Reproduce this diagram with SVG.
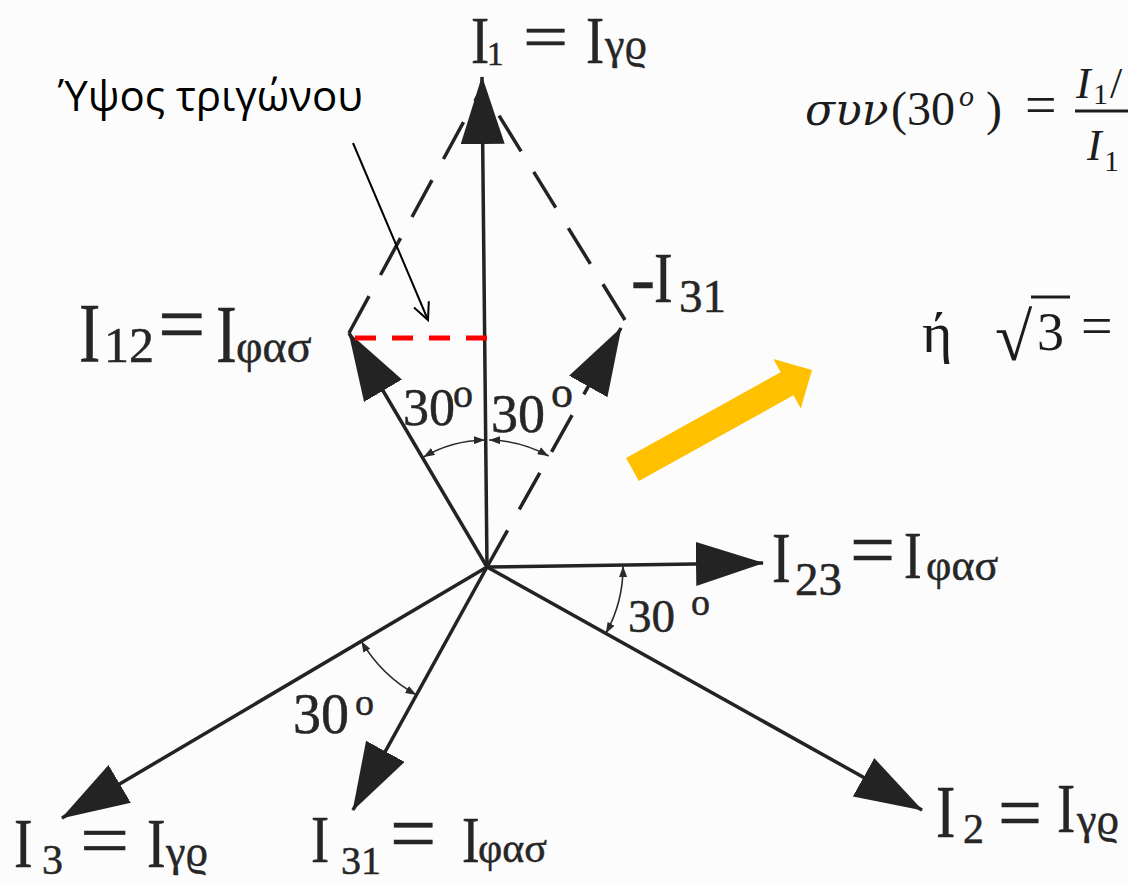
<svg xmlns="http://www.w3.org/2000/svg" width="1128" height="883" viewBox="0 0 1128 883">
<defs>
<style>
.vec{stroke:#232323;stroke-width:3.5;fill:none}
.dash{stroke:#232323;stroke-width:3.5;fill:none;stroke-dasharray:42 24}
.arc{stroke:#2a2a2a;stroke-width:1.6;fill:none}
.lbl{font-family:"Liberation Serif","Times New Roman",serif;fill:#262626;stroke:#262626;stroke-width:0.5}
.ann{font-family:"Open Sans","Liberation Sans",sans-serif;fill:#000}
.math{font-family:"Liberation Serif","Times New Roman",serif;fill:#1c1c1c}
.mi{font-family:"DejaVu Serif","Liberation Serif",serif;font-style:italic;fill:#1c1c1c}
</style>
<marker id="head" viewBox="0 0 68 44" refX="67" refY="22" markerWidth="68" markerHeight="44" markerUnits="userSpaceOnUse" orient="auto">
<path d="M0,0 L68,22 L0,44 z" fill="#232323"/>
</marker>
<marker id="tiny" viewBox="0 0 11 8" refX="11" refY="4" markerWidth="11" markerHeight="8" markerUnits="userSpaceOnUse" orient="auto-start-reverse">
<path d="M0,0 L11,4 L0,8 z" fill="#2a2a2a"/>
</marker>
</defs>
<rect width="1128" height="883" fill="#fcfcfc"/>

<g id="connectors">
<line class="vec" x1="487" y1="567" x2="482" y2="77" marker-end="url(#head)"/>
<line class="vec" x1="487" y1="567" x2="349" y2="333" marker-end="url(#head)"/>
<line class="dash" x1="487" y1="567" x2="621" y2="328" marker-end="url(#head)"/>
<line class="vec" x1="487" y1="567" x2="763" y2="563" marker-end="url(#head)"/>
<line class="vec" x1="487" y1="567" x2="922" y2="810" marker-end="url(#head)"/>
<line class="vec" x1="487" y1="567" x2="62" y2="818" marker-end="url(#head)"/>
<line class="vec" x1="487" y1="567" x2="353" y2="810" marker-end="url(#head)"/>
<line class="dash" x1="349" y1="333" x2="482" y2="88"/>
<line class="dash" x1="625" y1="320" x2="482" y2="88"/>
<path class="arc" d="M423.5,457 A127,127 0 0 1 485,440" marker-start="url(#tiny)" marker-end="url(#tiny)"/>
<path class="arc" d="M489,440 A127,127 0 0 1 548.6,456" marker-start="url(#tiny)" marker-end="url(#tiny)"/>
<path class="arc" d="M623,566 A136,136 0 0 1 605.8,633.4" marker-start="url(#tiny)" marker-end="url(#tiny)"/>
<path class="arc" d="M361.3,641.2 A146,146 0 0 0 416.5,694.9" marker-start="url(#tiny)" marker-end="url(#tiny)"/>
<line x1="353" y1="143" x2="428" y2="320" stroke="#000" stroke-width="2"/>
<polyline points="414,307.4 428,320 428.8,301.2" fill="none" stroke="#000" stroke-width="2"/>
<line x1="355" y1="338" x2="489" y2="338" stroke="#ff0000" stroke-width="5" stroke-dasharray="21 16"/>
<polygon points="626.1,457.95 780.7,372.25 773.4,359.1 812,370 800.8,408.5 793.5,395.35 638.9,481.05" fill="#ffc000"/>
</g>

<g id="label-I1" class="lbl">
<text transform="translate(471,63) scale(0.8,1)" font-size="68">I</text>
<text x="487" y="65" font-size="33">1</text>
<text transform="translate(523,58) scale(1.25,1)" font-size="64">=</text>
<text transform="translate(586,63) scale(0.8,1)" font-size="68">I</text>
<text x="605" y="59" font-size="44">γϱ</text>
</g>
<g id="label-I12" class="lbl">
<text transform="translate(79,362) scale(0.76,1)" font-size="84">I</text>
<text x="104" y="362" font-size="50">12</text>
<text x="158" y="353" font-size="84">=</text>
<text transform="translate(216,362) scale(0.76,1)" font-size="82">I</text>
<text x="236" y="362" font-size="46">φασ</text>
</g>
<g id="label-minusI31" class="lbl">
<text x="631" y="302" font-size="72">-</text>
<text transform="translate(654,302) scale(0.78,1)" font-size="72">I</text>
<text x="679" y="312" font-size="47">31</text>
</g>
<g id="label-I23" class="lbl">
<text transform="translate(772,582) scale(0.78,1)" font-size="72">I</text>
<text x="795" y="595" font-size="47">23</text>
<text x="850" y="577" font-size="80">=</text>
<text transform="translate(904,578) scale(0.78,1)" font-size="68">I</text>
<text x="926" y="580" font-size="44">φασ</text>
</g>
<g id="label-I2" class="lbl">
<text transform="translate(936,837) scale(0.78,1)" font-size="74">I</text>
<text x="963" y="843" font-size="42">2</text>
<text x="998" y="839" font-size="78">=</text>
<text transform="translate(1057,832) scale(0.78,1)" font-size="70">I</text>
<text x="1077" y="834" font-size="44">γϱ</text>
</g>
<g id="label-I3" class="lbl">
<text transform="translate(14,867) scale(0.8,1)" font-size="70">I</text>
<text x="42" y="874" font-size="42">3</text>
<text transform="translate(80,866) scale(1.15,1)" font-size="76">=</text>
<text transform="translate(147,867) scale(0.8,1)" font-size="70">I</text>
<text x="166" y="866" font-size="44">γϱ</text>
</g>
<g id="label-I31" class="lbl">
<text transform="translate(311,862) scale(0.8,1)" font-size="68">I</text>
<text x="341" y="874" font-size="40">31</text>
<text x="390" y="861" font-size="82">=</text>
<text transform="translate(462,862) scale(0.8,1)" font-size="66">I</text>
<text x="478" y="862" font-size="42">φασ</text>
</g>
<g id="angles" class="lbl">
<text x="403" y="425" font-size="52">30</text><text x="453" y="407" font-size="40">o</text>
<text x="491" y="432" font-size="54">30</text><text x="551" y="407" font-size="44">o</text>
<text x="628" y="632" font-size="47">30</text><text x="691" y="615" font-size="38">o</text>
<text x="293" y="733" font-size="56">30</text><text x="355" y="715" font-size="38">o</text>
</g>
<g id="annotation">
<text class="ann" x="58" y="111" font-size="42">Ύψος τριγώνου</text>
</g>
<g id="equations">
<text class="mi" x="805" y="125" font-size="44">συν</text>
<text class="math"><tspan x="891" y="125" font-size="48">(30</tspan><tspan x="959" y="106" font-size="30" font-style="italic">o</tspan><tspan x="986" y="125" font-size="48">)</tspan><tspan x="1025" y="124" font-size="56">=</tspan></text>
<text class="math"><tspan x="1076" y="98" font-size="44" font-style="italic">I</tspan><tspan x="1093" y="104" font-size="30">1</tspan><tspan x="1110" y="98" font-size="44">/</tspan></text>
<rect x="1075" y="109.5" width="53" height="3" fill="#1c1c1c"/>
<text class="math"><tspan x="1087" y="160" font-size="44" font-style="italic">I</tspan><tspan x="1104" y="171" font-size="30">1</tspan></text>
<text class="math"><tspan x="922" y="352" font-size="58">ή</tspan><tspan x="995" y="360" font-size="68">√</tspan><tspan x="1037" y="350" font-size="54">3</tspan><tspan x="1081" y="345" font-size="56">=</tspan></text>
<line x1="1031" y1="297" x2="1070" y2="297" stroke="#1c1c1c" stroke-width="3"/>
</g>
</svg>
